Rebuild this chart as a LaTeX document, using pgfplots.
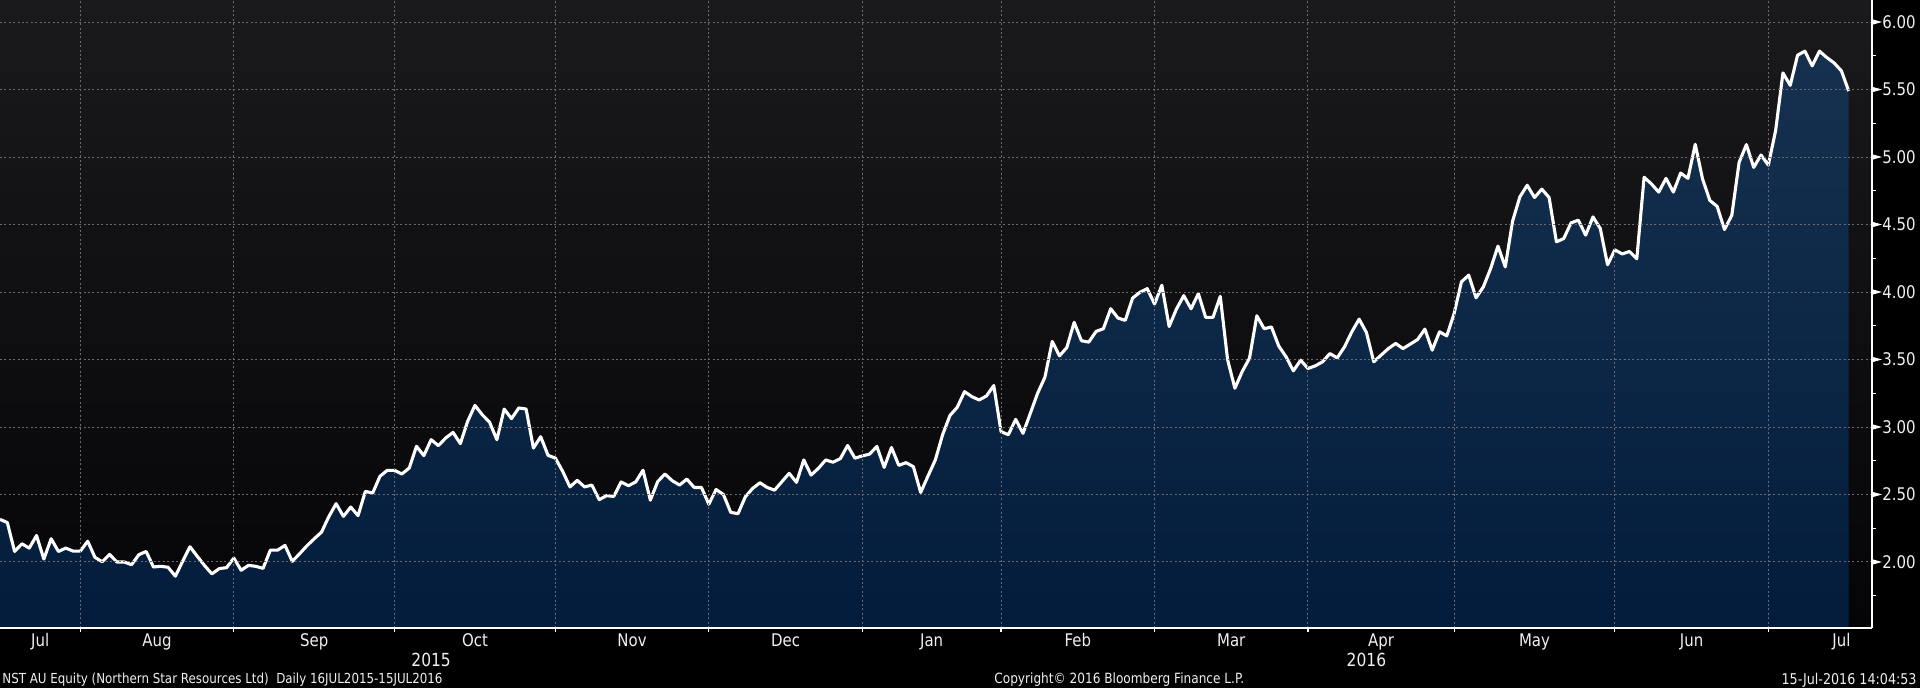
\documentclass[border=0pt]{standalone}
\usepackage{fontspec}
\setmainfont{DejaVu Sans}[FakeStretch=0.86]
\usepackage{pgfplots}
\usepackage{pgfplotstable}
\pgfplotsset{compat=1.18}
\definecolor{bgtop}{HTML}{1A1A1C}
\definecolor{bgbot}{HTML}{050508}
\definecolor{filltop}{HTML}{16314F}
\definecolor{fillbot}{HTML}{031C3C}
\definecolor{gridc}{HTML}{6A6A70}
\definecolor{txt}{HTML}{F0F0F0}
\pgfdeclareplotmark{rtri}{%
  \pgfpathmoveto{\pgfpoint{0bp}{1.4bp}}%
  \pgfpathlineto{\pgfpoint{5bp}{0bp}}%
  \pgfpathlineto{\pgfpoint{0bp}{-1.4bp}}%
  \pgfpathclose\pgfusepathqfill}
\pgfplotstableread{
v
2.316
2.292
2.078
2.135
2.103
2.196
2.022
2.172
2.078
2.103
2.081
2.081
2.154
2.034
2.002
2.056
2.000
2.000
1.980
2.054
2.078
1.963
1.968
1.961
1.895
2.005
2.113
2.042
1.973
1.912
1.951
1.958
2.029
1.939
1.975
1.968
1.953
2.088
2.088
2.123
2.005
2.061
2.120
2.172
2.221
2.336
2.432
2.338
2.407
2.343
2.523
2.511
2.635
2.679
2.679
2.652
2.696
2.857
2.788
2.906
2.862
2.919
2.960
2.877
3.042
3.160
3.091
3.035
2.906
3.133
3.062
3.141
3.133
2.844
2.928
2.790
2.770
2.672
2.556
2.605
2.556
2.570
2.462
2.491
2.486
2.593
2.565
2.593
2.680
2.458
2.595
2.652
2.602
2.570
2.614
2.552
2.552
2.428
2.537
2.500
2.368
2.358
2.483
2.545
2.587
2.552
2.532
2.595
2.657
2.590
2.756
2.644
2.694
2.756
2.739
2.766
2.863
2.769
2.786
2.799
2.856
2.701
2.848
2.716
2.736
2.706
2.515
2.637
2.756
2.943
3.085
3.146
3.262
3.225
3.200
3.230
3.307
2.965
2.943
3.057
2.953
3.101
3.250
3.369
3.634
3.527
3.589
3.775
3.639
3.629
3.708
3.728
3.876
3.807
3.790
3.955
3.998
4.025
3.911
4.050
3.745
3.874
3.973
3.876
3.988
3.812
3.812
3.968
3.498
3.287
3.411
3.510
3.824
3.728
3.741
3.600
3.520
3.416
3.495
3.433
3.453
3.483
3.544
3.512
3.594
3.705
3.799
3.700
3.483
3.532
3.581
3.619
3.581
3.614
3.648
3.725
3.569
3.705
3.675
3.841
4.075
4.125
3.957
4.038
4.174
4.340
4.186
4.525
4.705
4.791
4.700
4.762
4.700
4.372
4.396
4.512
4.532
4.421
4.556
4.471
4.202
4.312
4.282
4.300
4.246
4.850
4.801
4.740
4.842
4.740
4.881
4.842
5.094
4.837
4.678
4.634
4.463
4.568
4.960
5.092
4.923
5.015
4.940
5.196
5.623
5.531
5.754
5.784
5.675
5.784
5.737
5.697
5.638
5.489
}\stock
\begin{document}
\begin{tikzpicture}
\fill[black] (0,0) rectangle (960bp,-344bp);
\begin{axis}[
  at={(0,0)}, anchor=north west,
  scale only axis, width=936bp, height=314bp,
  xmin=0, xmax=256.19, ymin=1.511, ymax=6.163,
  clip=false,
  axis on top,
  axis background/.style={top color=bgtop, bottom color=bgbot},
  axis x line*=bottom, axis y line*=right,
  axis line style={white, line width=0.6bp},
  every tick/.style={white, line width=0.6bp},
  tick align=outside,
  major tick length=2bp, minor tick length=2.2bp,
  xtick={11,32,54,76,97,118,137,158,179,199,221,242},
  xticklabels={},
  extra x ticks={5.5,21.5,43,65,86.5,107.5,127.5,147.5,168.5,189,210,231.5,252},
  extra x tick labels={Jul,Aug,Sep,Oct,Nov,Dec,Jan,Feb,Mar,Apr,May,Jun,Jul},
  extra x tick style={major tick length=0pt, grid=none,
    tick label style={txt, font=\fontsize{8.7bp}{10bp}\selectfont, anchor=base, inner sep=0pt, yshift=-9bp}},
  ytick={2,2.5,...,6},
  minor ytick={1.75,2.25,...,5.75},
  yticklabel style={txt, font=\fontsize{8.7bp}{10bp}\selectfont, anchor=west, inner sep=0pt, xshift=3bp,
    /pgf/number format/.cd, fixed, fixed zerofill, precision=2, assume math mode=true},
  grid=major,
  major grid style={gridc, line width=0.5bp, dash pattern=on 1bp off 1.2bp},
  minor grid style={draw=none},
]
\addplot[draw=none, top color=filltop, bottom color=fillbot]
  table[x expr=\coordindex, y=v]{\stock} -- (axis cs:253,1.511) -- (axis cs:0,1.511) -- cycle;
\addplot[white, line width=1.55bp, line join=round]
  table[x expr=\coordindex, y=v]{\stock};
\addplot[only marks, mark=rtri, white]
  coordinates {(256.19,2) (256.19,2.5) (256.19,3) (256.19,3.5) (256.19,4) (256.19,4.5) (256.19,5) (256.19,5.5) (256.19,6)};
\node[txt, font=\fontsize{9bp}{10bp}\selectfont, inner sep=0pt, yshift=-16bp] at (axis cs:59,1.511) {2015};
\node[txt, font=\fontsize{9bp}{10bp}\selectfont, inner sep=0pt, yshift=-16bp] at (axis cs:187,1.511) {2016};
\draw[gray!70, line width=0.5bp] (axis cs:118,1.511) ++(0,-10.5bp) -- ++(0,-10.5bp);
\end{axis}
\node[txt, anchor=west, inner sep=0pt, font=\fontsize{6.9bp}{8bp}\selectfont] at (1bp,-340bp) {NST AU Equity (Northern Star Resources Ltd)\ \ Daily 16JUL2015-15JUL2016};
\node[txt, anchor=west, inner sep=0pt, font=\fontsize{7.05bp}{8bp}\selectfont] at (497bp,-340bp) {Copyright© 2016 Bloomberg Finance L.P.};
\node[txt, anchor=east, inner sep=0pt, font=\fontsize{7.4bp}{8bp}\selectfont] at (958.5bp,-340bp) {15-Jul-2016 14:04:53};
\pgfresetboundingbox
\path[use as bounding box] (0,0) rectangle (960bp,-344bp);
\end{tikzpicture}
\end{document}
